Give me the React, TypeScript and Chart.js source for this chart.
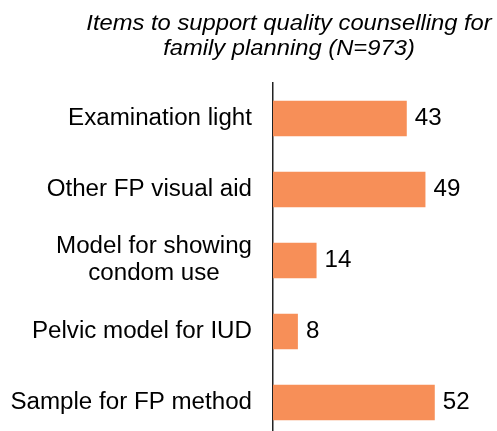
import { useEffect, useRef } from "react";
import { Chart, registerables } from "chart.js";

Chart.register(...registerables);

const titleLines = ["Items to support quality counselling for", "family planning (N=973)"];
const categories: string[][] = [
  ["Examination light"],
  ["Other FP visual aid"],
  ["Model for showing", "condom use"],
  ["Pelvic model for IUD"],
  ["Sample for FP method"],
];
const values = [43, 49, 14, 8, 52];

const FONT = '"Liberation Sans", Arial, sans-serif';

function drawText(ctx: CanvasRenderingContext2D, text: string, x: number, y: number, align: CanvasTextAlign, sx: number) {
  ctx.save();
  ctx.translate(x, y);
  ctx.scale(sx, 1);
  ctx.textAlign = align;
  ctx.fillText(text, 0, 0);
  ctx.restore();
}

const textPlugin = {
  id: "customText",
  afterDraw(chart: any) {
    const ctx: CanvasRenderingContext2D = chart.ctx;
    const yScale = chart.scales.y;
    ctx.save();
    ctx.fillStyle = "#000";
    ctx.textBaseline = "middle";
    // title
    ctx.font = `italic 22px ${FONT}`;
    titleLines.forEach((t, i) => drawText(ctx, t, 289, 24 + i * 25, "center", 1.08));
    // category labels
    ctx.font = `23px ${FONT}`;
    const sx = 1.05;
    const right = chart.chartArea.left - 21;
    categories.forEach((lines, i) => {
      const y = yScale.getPixelForValue(i);
      const maxW = Math.max(...lines.map((l) => ctx.measureText(l).width * sx));
      const lh = 27;
      lines.forEach((l, j) => {
        const ly = y + (j - (lines.length - 1) / 2) * lh;
        drawText(ctx, l, right - maxW / 2, ly, "center", sx);
      });
    });
    // value labels
    const meta = chart.getDatasetMeta(0);
    meta.data.forEach((bar: any, i: number) => {
      drawText(ctx, String(values[i]), bar.x + 8, bar.y, "left", sx);
    });
    ctx.restore();
  },
};

export default function App() {
  const ref = useRef<HTMLCanvasElement | null>(null);
  useEffect(() => {
    if (!ref.current) return;
    const chart = new Chart(ref.current, {
      type: "bar",
      data: {
        labels: categories.map((c) => c.join(" ")),
        datasets: [
          {
            data: values,
            backgroundColor: "rgb(247,143,88)",
            barPercentage: 0.5,
            categoryPercentage: 1,
          },
        ],
      },
      options: {
        indexAxis: "y",
        animation: false,
        responsive: true,
        maintainAspectRatio: false,
        layout: { padding: { top: 83, left: 0, right: 0, bottom: 0 } },
        plugins: {
          legend: { display: false },
          title: { display: false },
          tooltip: { enabled: false },
        },
        scales: {
          x: { display: false, min: 0, max: 72 },
          y: {
            grid: { display: false },
            border: { display: true, color: "#222", width: 1.5 },
            ticks: { display: false },
            afterFit: (scale: any) => {
              scale.width = 273;
            },
          },
        },
      },
      plugins: [textPlugin],
    });
    return () => chart.destroy();
  }, []);
  return (
    <div style={{ position: "fixed", left: 0, top: 0, width: 497, height: 438, background: "#fff" }}>
      <canvas ref={ref} />
    </div>
  );
}
